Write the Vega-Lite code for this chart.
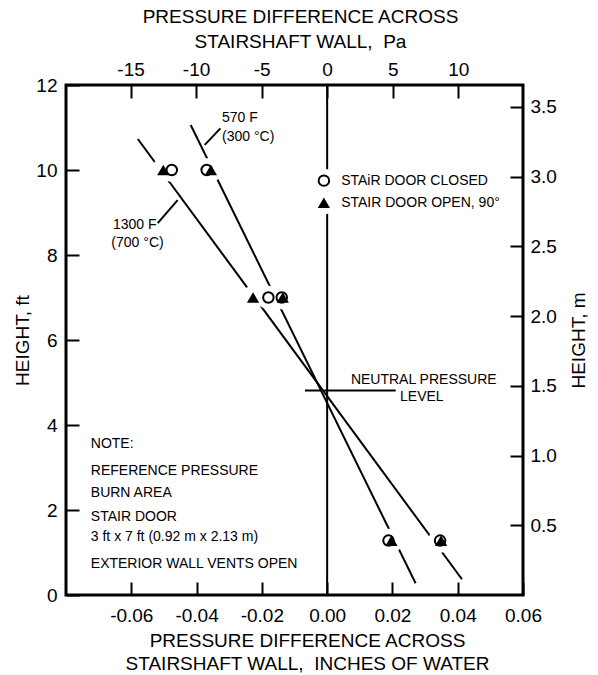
{
  "$schema": "https://vega.github.io/schema/vega-lite/v6.json",
  "width": 457,
  "height": 510,
  "autosize": "none",
  "padding": {"left": 66, "top": 85, "right": 75, "bottom": 80},
  "background": "white",
  "config": {
    "view": {"stroke": "black", "strokeWidth": 3},
    "font": "Liberation Sans",
    "axis": {
      "domain": false, "grid": false, "ticks": true,
      "tickColor": "black", "tickWidth": 2, "tickSize": -13,
      "labelColor": "black", "labelFont": "Liberation Sans", "labelFontSize": 19,
      "labelFlush": false, "labelOverlap": false, "labelBound": false,
      "titleFont": "Liberation Sans", "titleFontSize": 19, "titleFontWeight": "normal",
      "titleColor": "black", "titleLineHeight": 23
    }
  },
  "datasets": {
    "markers": [
      {"x": -0.0476, "y": 10, "shape": "circle"},
      {"x": -0.0369, "y": 10, "shape": "circle"},
      {"x": -0.0180, "y": 7, "shape": "circle"},
      {"x": -0.0139, "y": 7, "shape": "circle"},
      {"x": 0.0188, "y": 1.28, "shape": "circle"},
      {"x": 0.0346, "y": 1.28, "shape": "circle"},
      {"x": -0.001, "y": 9.75, "shape": "circle"},
      {"x": -0.0502, "y": 10, "shape": "triangle"},
      {"x": -0.0356, "y": 10, "shape": "triangle"},
      {"x": -0.0227, "y": 7, "shape": "triangle"},
      {"x": -0.0136, "y": 7, "shape": "triangle"},
      {"x": 0.0197, "y": 1.28, "shape": "triangle"},
      {"x": 0.0349, "y": 1.28, "shape": "triangle"},
      {"x": -0.001, "y": 9.23, "shape": "triangle"}
    ]
  },
  "layer": [
    {
      "encoding": {
        "x": {
          "field": "x", "type": "quantitative",
          "scale": {"domain": [-0.08, 0.06], "nice": false, "zero": false},
          "axis": {
            "orient": "bottom",
            "values": [-0.06, -0.04, -0.02, 0, 0.02, 0.04, 0.06],
            "labelExpr": "(datum.value < 0 ? '-' : '') + format(abs(datum.value), '.2f')",
            "labelPadding": 24.5,
            "title": ["PRESSURE DIFFERENCE ACROSS", "STAIRSHAFT WALL,\u00a0 INCHES OF WATER"],
            "titlePadding": 6,
            "titleX": 241
          }
        },
        "y": {
          "field": "y", "type": "quantitative",
          "scale": {"domain": [0, 12], "nice": false, "zero": false},
          "axis": {
            "orient": "left",
            "values": [0, 2, 4, 6, 8, 10, 12],
            "labelPadding": 22,
            "title": "HEIGHT,  ft",
            "titlePadding": 3.5
          }
        }
      },
      "layer": [
        {
          "data": {"values": [
            {"x": -0.0580, "y": 10.73, "x2": 0.0413, "y2": 0.37},
            {"x": -0.0418, "y": 11.06, "x2": 0.0271, "y2": 0.275},
            {"x": 0, "y": 0, "x2": 0, "y2": 12},
            {"x": -0.0068, "y": 4.81, "x2": 0.021, "y2": 4.81},
            {"x": -0.0327, "y": 10.98, "x2": -0.0375, "y2": 10.59},
            {"x": -0.0519, "y": 8.75, "x2": -0.0458, "y2": 9.29}
          ]},
          "mark": {"type": "rule", "strokeWidth": 2, "color": "black"},
          "encoding": {"x2": {"field": "x2"}, "y2": {"field": "y2"}}
        },
        {
          "data": {"name": "markers"},
          "mark": {"type": "point", "shape": "circle", "filled": true, "color": "white", "size": 560, "opacity": 1, "strokeWidth": 0}
        },
        {
          "data": {"name": "markers"},
          "transform": [{"filter": "datum.shape === 'triangle'"}],
          "mark": {"type": "point", "shape": "triangle-up", "filled": true, "color": "black", "size": 150, "opacity": 1}
        },
        {
          "data": {"name": "markers"},
          "transform": [{"filter": "datum.shape === 'circle'"}],
          "mark": {"type": "point", "shape": "circle", "filled": false, "color": "black", "strokeWidth": 2, "size": 110, "opacity": 1}
        },
        {
          "data": {"values": [
            {"x": -0.0322, "y": 11.22, "label": "570 F"},
            {"x": -0.0322, "y": 10.78, "label": "(300 °C)"},
            {"x": -0.0656, "y": 8.71, "label": "1300 F"},
            {"x": -0.0661, "y": 8.28, "label": "(700 °C)"},
            {"x": 0.0043, "y": 9.75, "label": "STAiR DOOR CLOSED"},
            {"x": 0.0043, "y": 9.23, "label": "STAIR DOOR OPEN, 90°"},
            {"x": -0.0724, "y": 3.546, "label": "NOTE:"},
            {"x": -0.0724, "y": 2.925, "label": "REFERENCE PRESSURE"},
            {"x": -0.0724, "y": 2.393, "label": "BURN AREA"},
            {"x": -0.0724, "y": 1.828, "label": "STAIR DOOR"},
            {"x": -0.0724, "y": 1.372, "label": "3 ft x 7 ft (0.92 m x 2.13 m)"},
            {"x": -0.0724, "y": 0.722, "label": "EXTERIOR WALL VENTS OPEN"}
          ]},
          "mark": {"type": "text", "align": "left", "baseline": "middle", "fontSize": 14, "font": "Liberation Sans", "color": "black"},
          "encoding": {"text": {"field": "label"}}
        },
        {
          "data": {"values": [
            {"x": 0.0296, "y": 5.06, "label": "NEUTRAL PRESSURE"},
            {"x": 0.029, "y": 4.66, "label": "LEVEL"}
          ]},
          "mark": {"type": "text", "align": "center", "baseline": "middle", "fontSize": 14, "font": "Liberation Sans", "color": "black"},
          "encoding": {"text": {"field": "label"}}
        }
      ]
    },
    {
      "data": {"values": [{"pa": 0, "m": 0}]},
      "mark": {"type": "point", "opacity": 0},
      "encoding": {
        "x": {
          "field": "pa", "type": "quantitative",
          "scale": {"domain": [-19.927, 14.945], "nice": false, "zero": false},
          "axis": {
            "orient": "top",
            "values": [-15, -10, -5, 0, 5, 10],
            "labelExpr": "(datum.value < 0 ? '-' : '') + format(abs(datum.value), 'd')",
            "labelPadding": 19,
            "title": ["PRESSURE DIFFERENCE ACROSS", "STAIRSHAFT WALL,\u00a0 Pa"],
            "titleLineHeight": 25,
            "titlePadding": 9,
            "titleX": 234
          }
        },
        "y": {
          "field": "m", "type": "quantitative",
          "scale": {"domain": [0, 3.6576], "nice": false, "zero": false},
          "axis": {
            "orient": "right",
            "values": [0.5, 1, 1.5, 2, 2.5, 3, 3.5],
            "format": ".1f",
            "labelPadding": 20,
            "title": "HEIGHT,  m",
            "titleAngle": 270,
            "titleBaseline": "top",
            "titlePadding": 13
          }
        }
      }
    }
  ],
  "resolve": {"scale": {"x": "independent", "y": "independent"}}
}
